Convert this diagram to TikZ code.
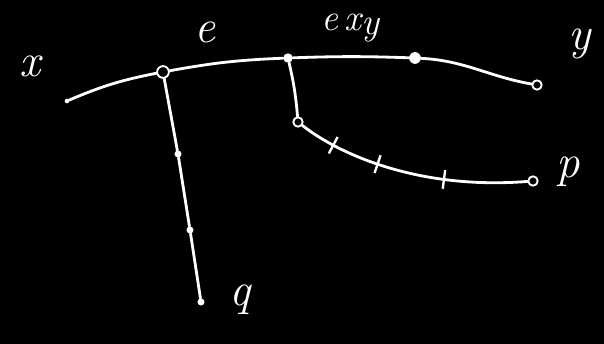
\documentclass[tikz,border=0pt]{standalone}
\usepackage{tikz}
\usetikzlibrary{positioning, calc}

\begin{document}
\begin{tikzpicture}[
    x=0.03cm, y=-0.03cm,
    line/.style={draw=white, line width=2.4pt, line cap=round},
    dot/.style={circle, fill=white, inner sep=0pt, minimum size=6pt},
    ring/.style={circle, draw=white, line width=1.6pt, inner sep=0pt, minimum size=8pt},
    tickmark/.style={rectangle, draw=white, line width=2pt, inner sep=0pt, minimum width=0pt, minimum height=16pt, sloped},
    lbl/.style={text=white, font=\fontsize{40}{44}\selectfont\itshape}
]
    % Background
    \fill[black] (0,0) rectangle (604,344);

    % Points
    \node[dot, minimum size=4pt] (xpt) at (67,101) {};
    \node[ring, minimum size=10pt] (e) at (163,72) {};
    \node[dot, minimum size=8pt] (ej) at (288,58) {};
    \node[dot, minimum size=10pt] (mid) at (415,58) {};
    \node[ring] (ypt) at (537,85) {};
    \node[ring] (bend) at (298,122) {};
    \node[ring] (ppt) at (533,181) {};
    \node[dot] (q1) at (178,154) {};
    \node[dot] (q2) at (190,230) {};
    \node[dot] (qpt) at (201,302) {};

    % Labels
    \node[lbl] (xlab) at (30,66) {x};
    \node[lbl] (elab) at (205,32) {e};
    \node[lbl, font=\fontsize{32}{36}\selectfont\itshape] (exylab) at (350,28) {e\,x\raisebox{-.12em}{y}};
    \node[lbl] (ylab) at (580,44) {y};
    \node[lbl] (plab) at (568,172) {p};
    \node[lbl] (qlab) at (240,300) {q};

    % Top path x -- e -- e_xy -- y
    \draw[line] (xpt) to[bend left=6] (e);
    \draw[line] (e) to[bend left=4] (ej);
    \draw[line] (ej) to[bend left=2] (mid);
    \draw[line] (mid) to[out=-3, in=170] (ypt);

    % Branch to p with ticks
    \draw[line] (ej) to[bend left=4] (bend);
    \draw[line] (bend) .. controls (340,155) and (420,190) .. (ppt)
        node[tickmark, pos=0.22] (t1) {}
        node[tickmark, pos=0.45] (t2) {}
        node[tickmark, pos=0.72] (t3) {};

    % Branch to q
    \draw[line] (e) -- (q1);
    \draw[line] (q1) -- (q2);
    \draw[line] (q2) -- (qpt);
\end{tikzpicture}
\end{document}
